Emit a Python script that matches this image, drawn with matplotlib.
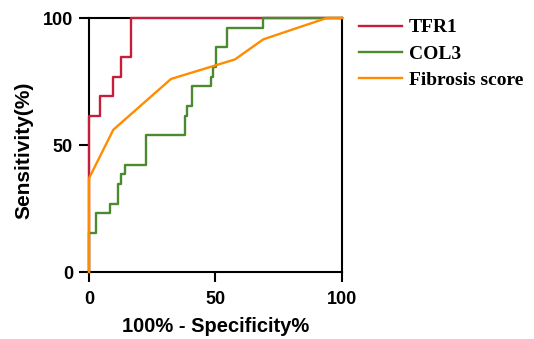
import matplotlib

matplotlib.use("Agg")

import matplotlib.pyplot as plt

# ROC curves, values (x = 100% - specificity, y = sensitivity)
tfr1_x = [0, 0, 4.2, 4.2, 9.6, 9.6, 12.6, 12.6, 16.7, 16.7, 100]
tfr1_y = [0, 61.5, 61.5, 69.2, 69.2, 76.9, 76.9, 84.6, 84.6, 100, 100]

col3_x = [0, 0, 2.8, 2.8, 8.3, 8.3, 11.3, 11.3, 12.6, 12.6, 14.2, 14.2,
          22.5, 22.5, 37.9, 37.9, 38.9, 38.9, 40.6, 40.6, 48.1, 48.1,
          49.2, 49.2, 50.1, 50.1, 54.4, 54.4, 68.9, 68.9, 100]
col3_y = [0, 15.4, 15.4, 23.1, 23.1, 26.9, 26.9, 34.6, 34.6, 38.5, 38.5, 42.3,
          42.3, 53.8, 53.8, 61.5, 61.5, 65.4, 65.4, 73.1, 73.1, 76.9,
          76.9, 80.8, 80.8, 88.5, 88.5, 96.2, 96.2, 100, 100]

fib_x = [0, 0, 9.6, 32.4, 57.7, 68.9, 94.0, 100]
fib_y = [0, 36.9, 56.0, 76.0, 83.7, 91.6, 100, 100]

series = [
    ("TFR1", tfr1_x, tfr1_y, "#C41E3A"),
    ("COL3", col3_x, col3_y, "#4B8A2E"),
    ("Fibrosis score", fib_x, fib_y, "#FF8C00"),
]

fig = plt.figure(figsize=(5.34, 3.39), dpi=100)
ax = fig.add_axes([0.1667, 0.1976, 0.4737, 0.7493])

for name, xs, ys, color in series:
    ax.plot(xs, ys, color=color, lw=1.7, label=name, clip_on=False, zorder=3)

ax.set_xlim(0, 100)
ax.set_ylim(0, 100)
ax.set_xticks([0, 50, 100])
ax.set_yticks([0, 50, 100])
for s in ax.spines.values():
    s.set_linewidth(1.5)
ax.tick_params(direction="out", length=7, width=1.5, labelsize=13)
ax.tick_params(axis="x", pad=7)
ax.tick_params(axis="y", pad=4.5)
for lab in ax.get_xticklabels() + ax.get_yticklabels():
    lab.set_fontweight("bold")
    lab.set_family("Liberation Sans")

ax.set_xlabel("100% - Specificity%", fontsize=14.5, fontweight="bold",
              family="Liberation Sans", labelpad=6.5)
ax.set_ylabel("Sensitivity(%)", fontsize=15, fontweight="bold",
              family="Liberation Sans")
ax.yaxis.set_label_coords(-0.221, 0.48)

fig.legend(loc="upper left", bbox_to_anchor=(0.639, 0.996), frameon=False,
           handlelength=2.2, handletextpad=0.36, labelspacing=0.45,
           prop={"family": "Liberation Serif", "weight": "bold", "size": 14})

plt.savefig("out.png", dpi=100)
